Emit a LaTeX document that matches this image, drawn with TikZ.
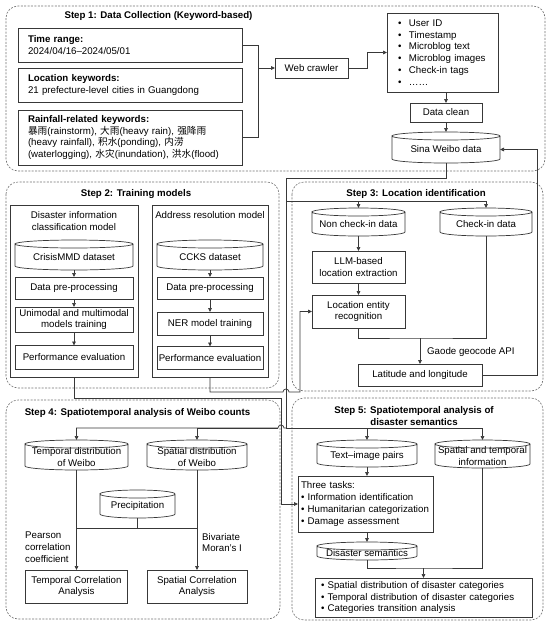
\documentclass[tikz,border=0pt]{standalone}
\usepackage{fontspec}
\setmainfont{Liberation Sans}
\newfontfamily\cjk{Noto Sans CJK SC}
\usetikzlibrary{arrows.meta,calc}
\newcommand\drumline[1]{%
  \draw[ln] let \p1=(#1.north west), \p2=(#1.south east), \n1={(\x2-\x1)/2} in
    (\x1,\y1) arc[start angle=180, end angle=0, x radius=\n1, y radius=4pt]
    arc[start angle=0, end angle=-180, x radius=\n1, y radius=4pt]
    -- (\x1,\y2+4pt) arc[start angle=180, end angle=360, x radius=\n1, y radius=4pt]
    -- (\x2,\y1);}
\begin{document}
\begin{tikzpicture}[x=1pt,y=-1pt,
  font=\fontsize{9.7}{11.8}\selectfont,
  ln/.style={draw=black!78, line width=0.7pt},
  bx/.style={ln, align=center, inner sep=0pt, outer sep=0pt},
  lbox/.style={ln, align=left, inner ysep=0pt, outer sep=0pt},
  ar/.style={ln, -{Triangle[length=4pt,width=3.6pt]}},
  stepbox/.style={draw=black!55, line width=0.6pt, dash pattern=on 2pt off 1.4pt, rounded corners=12pt},
  ttl/.style={font=\fontsize{9.7}{11.8}\selectfont\bfseries, align=center, inner sep=0pt},
  drum/.style={align=center, inner sep=0pt, outer sep=0pt},
  lbl/.style={align=left, inner sep=0pt, anchor=west},
]
\path[fill=white, use as bounding box] (0,0) rectangle (550,625);

% ---------- step frames ----------
\draw[stepbox] (6,6) rectangle (545,171);
\draw[stepbox] (6,182) rectangle (279,388);
\draw[stepbox] (292,182) rectangle (543,391);
\draw[stepbox] (6,400) rectangle (280,619);
\draw[stepbox] (292,398) rectangle (543,620);

% ---------- Step 1 ----------
\node[ttl] (s1t) at (158.5,16) {Step 1: Data Collection (Keyword-based)};
\node[lbox, text width=204pt, inner xsep=10pt, minimum height=34pt] (time) at (130,45)
  {\textbf{Time range:}\\2024/04/16–2024/05/01};
\node[lbox, text width=204pt, inner xsep=10pt, minimum height=34pt] (loc) at (130,85)
  {\textbf{Location keywords:}\\21 prefecture-level cities in Guangdong};
\node[lbox, text width=204pt, inner xsep=10pt, minimum height=55pt] (rain) at (130,137.5)
  {\textbf{Rainfall-related keywords:}\\
   {\cjk 暴雨}(rainstorm), {\cjk 大雨}(heavy rain), {\cjk 强降雨}\\
   (heavy rainfall), {\cjk 积水}(ponding), {\cjk 内涝}\\
   (waterlogging), {\cjk 水灾}(inundation), {\cjk 洪水}(flood)};
\node[bx, minimum width=73pt, minimum height=20pt] (crawler) at (311.5,68) {Web crawler};
\node[lbox, text width=97pt, inner xsep=7pt, minimum height=79pt] (list) at (442.5,52.5)
  {\makebox[15pt][l]{\hspace{4pt}•}User ID\\
   \makebox[15pt][l]{\hspace{4pt}•}Timestamp\\
   \makebox[15pt][l]{\hspace{4pt}•}Microblog text\\
   \makebox[15pt][l]{\hspace{4pt}•}Microblog images\\
   \makebox[15pt][l]{\hspace{4pt}•}Check-in tags\\
   \makebox[15pt][l]{\hspace{4pt}•}……};
\node[bx, minimum width=72pt, minimum height=19pt] (clean) at (446,112.5) {Data clean};
\node[drum, minimum width=108pt, minimum height=27pt] (weibo) at (446,149.5) {Sina Weibo data};
\drumline{weibo}

\coordinate (brk) at (258,68);
\draw[ln] (time.east) -| (brk);
\draw[ln] (rain.east) -| (brk);
\draw[ar] (brk) -- (crawler.west);
\draw[ar] (crawler.east) -- ++(19,0) |- (list.west);
\draw[ar] (list.south -| clean.north) -- (clean.north);
\draw[ar] (clean.south) -- ([yshift=4pt]weibo.north);

% ---------- Step 2 ----------
\node[ttl] (s2t) at (136,194) {Step 2: Training models};
\node[bx, minimum width=128pt, minimum height=172pt] (dicm) at (74,291) {};
\node[drum] (dicmt) at (74,221) {Disaster information\\classification model};
\node[bx, minimum width=116pt, minimum height=172pt] (addr) at (210,291) {};
\node[drum] (addrt) at (210,215) {Address resolution model};

\node[drum, minimum width=118pt, minimum height=26pt] (crisis) at (74,257) {CrisisMMD dataset};
\drumline{crisis}
\node[bx, minimum width=118pt, minimum height=22pt] (dpp1) at (74,288) {Data pre-processing};
\node[bx, minimum width=118pt, minimum height=25pt] (umm) at (74,319.5) {Unimodal and multimodal\\models training};
\node[bx, minimum width=118pt, minimum height=24pt] (pe1) at (74,357.5) {Performance evaluation};
\draw[ar] (crisis.south) -- (dpp1.north);
\draw[ar] (dpp1.south) -- (umm.north);
\draw[ar] (umm.south) -- (pe1.north);

\node[drum, minimum width=106pt, minimum height=26pt] (ccks) at (210,257) {CCKS dataset};
\drumline{ccks}
\node[bx, minimum width=106pt, minimum height=22pt] (dpp2) at (210,288) {Data pre-processing};
\node[bx, minimum width=106pt, minimum height=23pt] (ner) at (210,323.5) {NER model training};
\node[bx, minimum width=106pt, minimum height=23pt] (pe2) at (210,358) {Performance evaluation};
\draw[ar] (ccks.south) -- (dpp2.north);
\draw[ar] (dpp2.south) -- (ner.north);
\draw[ar] (ner.south) -- (pe2.north);

% ---------- Step 3 ----------
\node[ttl] (s3t) at (416,194) {Step 3: Location identification};
\node[drum, minimum width=93pt, minimum height=24pt] (noncheck) at (358.5,224) {Non check-in data};
\drumline{noncheck}
\node[drum, minimum width=92pt, minimum height=24pt] (check) at (486,224) {Check-in data};
\drumline{check}
\node[bx, minimum width=93pt, minimum height=32pt] (llm) at (358.5,267) {LLM-based\\location extraction};
\node[bx, minimum width=93pt, minimum height=33pt] (ler) at (358.5,311.5) {Location entity\\recognition};
\node[bx, minimum width=124pt, minimum height=22pt] (latlon) at (420,375) {Latitude and longitude};
\node[lbl] (gaode) at (427,352) {Gaode geocode API};
\draw[ar] (noncheck.south) -- (llm.north);
\draw[ar] (llm.south) -- (ler.north);
\coordinate (j3) at (420,338);
\draw[ln] (ler.south) |- (j3) -| (check.south);
\draw[ar] (j3) -- (latlon.north);
\draw[ar] (latlon.east) -- ++(55,0) |- (weibo.east);

% ---------- trunk from Sina Weibo data ----------
\coordinate (tr1) at (286,178);
\coordinate (tr3) at (286,201);
\coordinate (tr4) at (286,428);
\draw[ln] (weibo.south) |- (tr1) -- (tr4);
\draw[ar] (tr3) -| ([yshift=4pt]noncheck.north);
\draw[ar] (tr3) -| ([yshift=4pt]check.north);

% ---------- Step 4 ----------
\node[ttl] (s4t) at (137.5,413) {Step 4: Spatiotemporal analysis of Weibo counts};
\node[drum, minimum width=103pt, minimum height=26pt] (tdw) at (76.5,457) {Temporal distribution\\of Weibo};
\drumline{tdw}
\node[drum, minimum width=100pt, minimum height=26pt] (sdw) at (197,457) {Spatial distribution\\of Weibo};
\drumline{sdw}
\node[drum, minimum width=75pt, minimum height=24pt] (precip) at (137.5,506) {Precipitation};
\drumline{precip}
\node[bx, minimum width=102pt, minimum height=33pt] (tca) at (76.5,586.5) {Temporal Correlation\\Analysis};
\node[bx, minimum width=100pt, minimum height=33pt] (sca) at (197,586.5) {Spatial Correlation\\Analysis};
\node[lbl] (pearson) at (25,547.5) {Pearson\\correlation\\coefficient};
\node[lbl] (moran) at (202,542.5) {Bivariate\\Moran’s I};
\draw[ar] (tdw.south) -- (tca.north);
\draw[ar] (sdw.south) -- (sca.north);
\draw[ln] (precip.south) -- ++(0,10) coordinate (pj);
\draw[ln] (pj -| tdw.south) -- (pj -| sdw.south);

\draw[ar] (tr4) -- ++(-2,0) arc[start angle=0, end angle=180, radius=3pt] coordinate (hopL)
  -| ([yshift=4pt]tdw.north);
\draw[ar] (hopL) -| ([yshift=4pt]sdw.north);

% ---------- Step 5 ----------
\node[ttl] (s5t) at (414,416) {Step 5: Spatiotemporal analysis of\\disaster semantics};
\node[drum, minimum width=100pt, minimum height=23pt] (tip) at (367,455.5) {Text–image pairs};
\drumline{tip}
\node[drum, minimum width=95pt, minimum height=24pt] (sti) at (482.5,456) {Spatial and temporal\\information};
\drumline{sti}
\node[lbox, text width=129pt, inner xsep=3pt, minimum height=56pt] (tasks) at (365.5,504)
  {Three tasks:\\• Information identification\\• Humanitarian categorization\\• Damage assessment};
\node[drum, minimum width=100pt, minimum height=14pt] (ds) at (367,553) {Disaster semantics};
\drumline{ds}
\node[lbox, text width=205pt, inner xsep=6pt, minimum height=39pt] (result) at (423.5,597.5)
  {• Spatial distribution of disaster categories\\• Temporal distribution of disaster categories\\• Categories transition analysis};
\draw[ar] (tr4) -| ([yshift=4pt]tip.north);
\draw[ar] (tr4) -| ([yshift=4pt]sti.north);
\draw[ar] (tip.south) -- (tip.south |- tasks.north);
\draw[ar] (tasks.south -| ds.north) -- ([yshift=4pt]ds.north);
\coordinate (j5) at (423.5,568);
\draw[ln] (ds.south) |- (j5) -| (sti.south);
\draw[ar] (j5) -- (result.north);

% ---------- cross connectors from Step 2 ----------
\draw[ar] (addr.south) -- ++(0,15) -- (283,392) arc[start angle=180, end angle=0, radius=3pt]
  -- (300,392) |- (ler.west);
\draw[ar] (dicm.south) -- ++(0,21) -- (281,398) |- (tasks.west);
\end{tikzpicture}
\end{document}
